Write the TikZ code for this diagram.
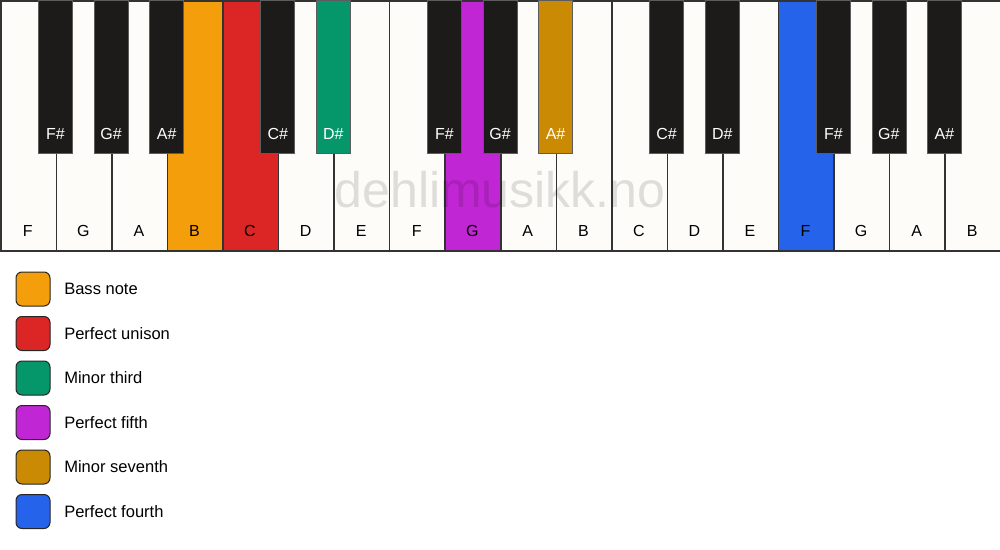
\documentclass[tikz,border=0pt]{standalone}
\usepackage{fontspec}
\setmainfont{Liberation Sans}
\definecolor{keywhite}{HTML}{FDFCF9}
\definecolor{keyblack}{HTML}{1C1B1A}
\definecolor{keyline}{HTML}{333333}
\definecolor{cbass}{HTML}{F59E0B}
\definecolor{cunison}{HTML}{DC2626}
\definecolor{cthird}{HTML}{059669}
\definecolor{cfifth}{HTML}{C026D3}
\definecolor{cseventh}{HTML}{CA8A04}
\definecolor{cfourth}{HTML}{2563EB}
\tikzset{
  whitekey/.style={draw=keyline, line width=1.125pt, fill=keywhite, minimum width=41.667pt, minimum height=187.5pt, inner sep=0pt, anchor=north west},
  blackkey/.style={draw=keyline!80!white, line width=0.5625pt, fill=keyblack, minimum width=25.5pt, minimum height=114.75pt, inner sep=0pt, anchor=north},
  wlabel/.style={font=\fontsize{12}{14}\selectfont, text=black, anchor=base},
  blabel/.style={font=\fontsize{12}{14}\selectfont, text=white, anchor=base},
  legbox/.style={draw=black!85, line width=0.75pt, rounded corners=4.5pt, minimum width=25.5pt, minimum height=25.5pt, inner sep=0pt, anchor=center},
  legtext/.style={font=\fontsize{12.4}{14}\selectfont, text=black, anchor=west, inner sep=0pt}
}
\begin{document}
\begin{tikzpicture}[x=0.75pt, y=-0.75pt]
\fill[white] (0,0) rectangle (1000,550);
\useasboundingbox (0,0) rectangle (1000,550);
% white keys
\foreach \i/\n/\c in {0/F/keywhite,1/G/keywhite,2/A/keywhite,3/B/cbass,4/C/cunison,5/D/keywhite,6/E/keywhite,7/F/keywhite,8/G/cfifth,9/A/keywhite,10/B/keywhite,11/C/keywhite,12/D/keywhite,13/E/keywhite,14/F/cfourth,15/G/keywhite,16/A/keywhite,17/B/keywhite}{
  \node[whitekey, fill=\c] (w\i) at ({\i*55.5556},0) {};
  \node[wlabel] (wl\i) at ({(\i+0.5)*55.5556},236) {\n};
}
% black keys
\foreach \i/\n/\c in {1/F\#/keyblack,2/G\#/keyblack,3/A\#/keyblack,5/C\#/keyblack,6/D\#/cthird,8/F\#/keyblack,9/G\#/keyblack,10/A\#/cseventh,12/C\#/keyblack,13/D\#/keyblack,15/F\#/keyblack,16/G\#/keyblack,17/A\#/keyblack}{
  \node[blackkey, fill=\c] (b\i) at ({\i*55.5556},0) {};
  \node[blabel] (bl\i) at ({\i*55.5556},139) {\n};
}
% watermark
\node[anchor=base, font=\fontsize{37.5}{40}\selectfont, text=black, text opacity=0.12] (wm) at (500,207) {dehlimusikk.no};
% legend
\foreach \k/\c/\t in {0/cbass/Bass note,1/cunison/Perfect unison,2/cthird/Minor third,3/cfifth/Perfect fifth,4/cseventh/Minor seventh,5/cfourth/Perfect fourth}{
  \node[legbox, fill=\c] (lb\k) at (33,{289+\k*44.5}) {};
  \node[legtext] (lt\k) at (64,{289+\k*44.5}) {\t};
}
\end{tikzpicture}
\end{document}
